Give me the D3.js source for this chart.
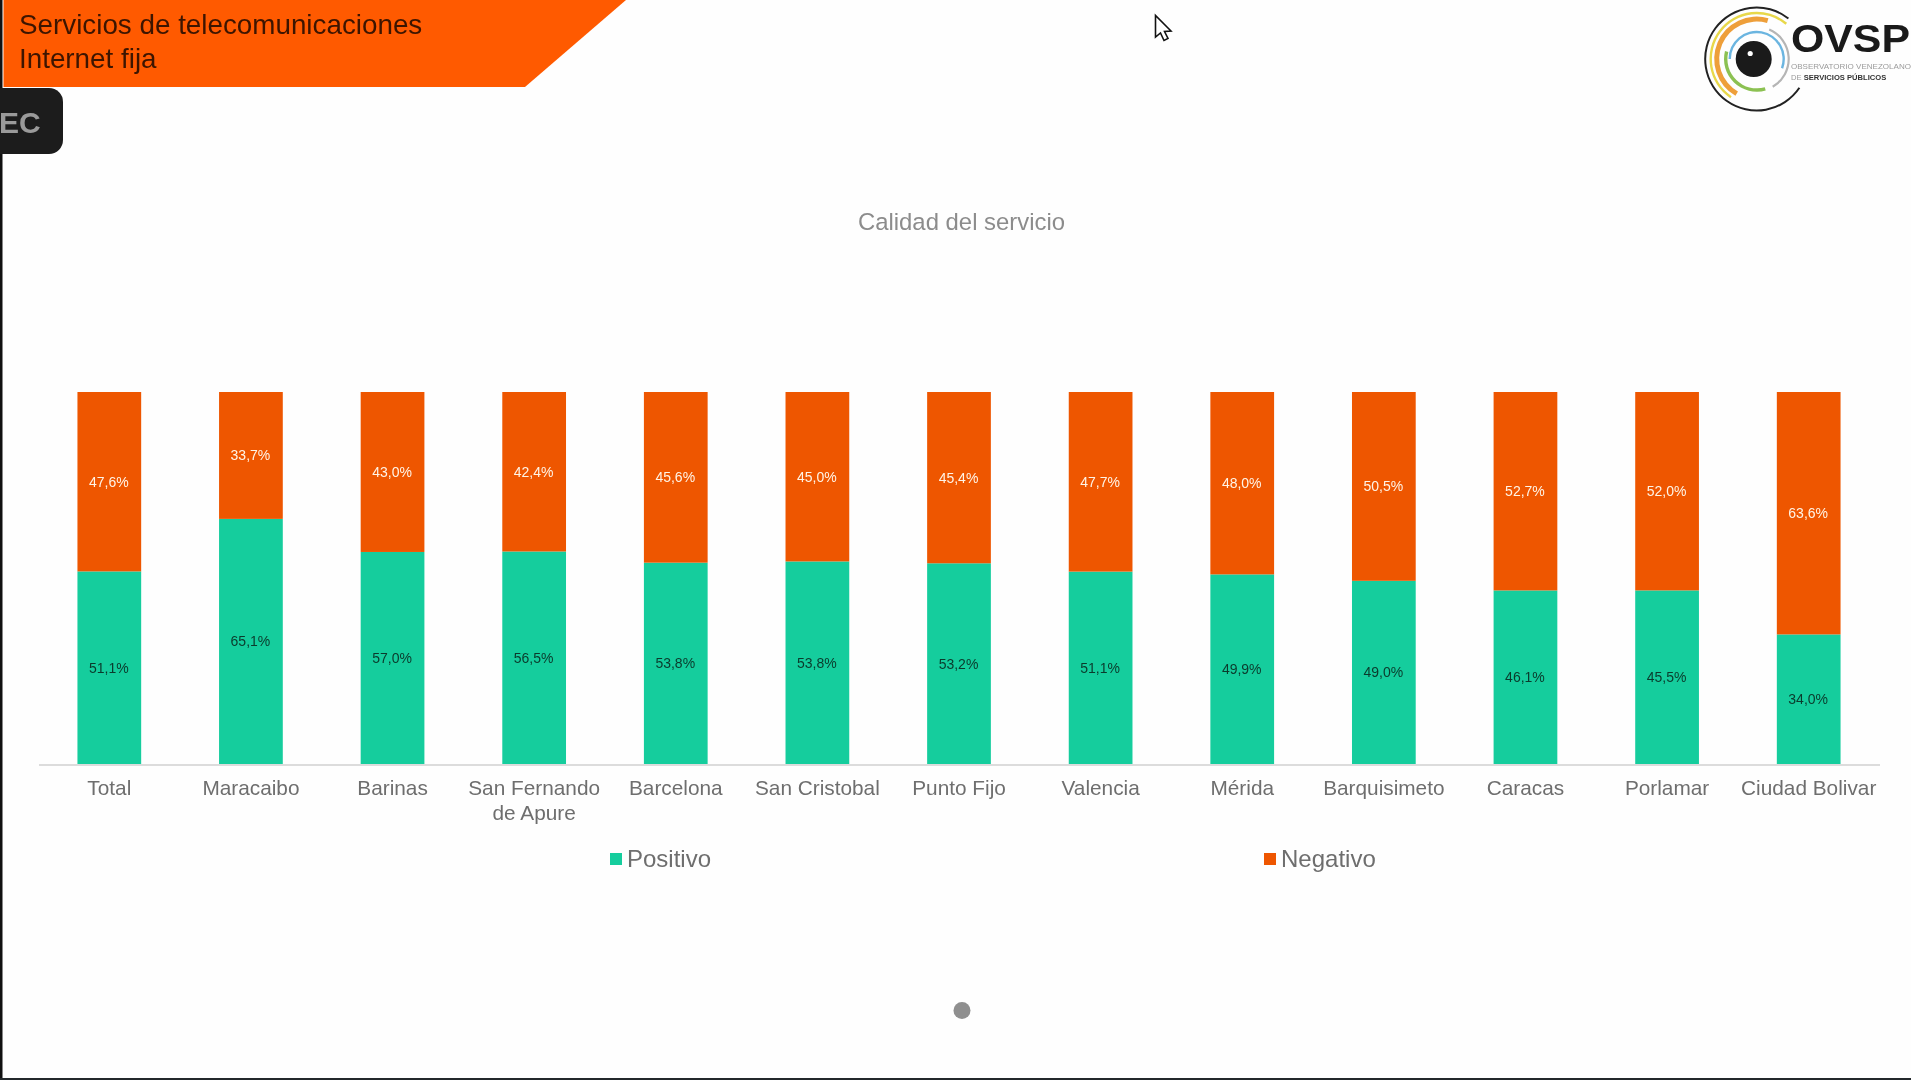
<!DOCTYPE html>
<html lang="es">
<head>
<meta charset="utf-8">
<title>Calidad del servicio</title>
<script src="https://cdn.jsdelivr.net/npm/d3@7"></script>
<style>
  html, body { margin: 0; padding: 0; background: #fff; overflow: hidden; }
  svg { display: block; font-family: "Liberation Sans", Arial, sans-serif; filter: blur(0.4px); }
</style>
</head>
<body>
<div id="chart"></div>
<script>
const categories = ['Total', 'Maracaibo', 'Barinas', 'San Fernando de Apure', 'Barcelona', 'San Cristobal',
  'Punto Fijo', 'Valencia', 'Mérida', 'Barquisimeto', 'Caracas', 'Porlamar', 'Ciudad Bolivar'];
const positivo = [51.1, 65.1, 57.0, 56.5, 53.8, 53.8, 53.2, 51.1, 49.9, 49.0, 46.1, 45.5, 34.0];
const negativo = [47.6, 33.7, 43.0, 42.4, 45.6, 45.0, 45.4, 47.7, 48.0, 50.5, 52.7, 52.0, 63.6];
const seriesNames = ['Positivo', 'Negativo'];
const headerLines = ['Servicios de telecomunicaciones', 'Internet fija'];
const chartTitle = 'Calidad del servicio';

const WIDTH = 1911;
const HEIGHT = 1080;
const GREEN = '#15cd9d';
const ORANGE = '#ee5600';
const GREY_TEXT = '#6e6e6e';

const svg = d3.select('#chart').append('svg')
  .attr('width', WIDTH)
  .attr('height', HEIGHT)
  .attr('viewBox', `0 0 ${WIDTH} ${HEIGHT}`);

svg.append('rect').attr('width', WIDTH).attr('height', HEIGHT).attr('fill', '#fefefe');

const x = d3.scaleBand().domain(categories).range([38.5, 1879.5]).paddingInner(0.55).paddingOuter(0.275);
const y = d3.scaleLinear().domain([0, 1]).range([764, 392]);
const color = d3.scaleOrdinal().domain(seriesNames).range([GREEN, ORANGE]);

// the bars are a 100% stack: the two shares do not always add up to 100
const table = categories.map((name, i) => ({ name, Positivo: positivo[i], Negativo: negativo[i] }));
const stacked = d3.stack().keys(seriesNames).offset(d3.stackOffsetExpand)(table);
const fmt = d3.formatLocale({ decimal: ',', thousands: '.', grouping: [3], currency: ['', ''] }).format('.1f');

function drawBars() {
  const groups = svg.append('g').selectAll('g').data(stacked).join('g').attr('fill', (s) => color(s.key));
  groups.selectAll('rect').data((s) => s).join('rect')
    .attr('x', (d) => x(d.data.name))
    .attr('y', (d) => y(d[1]))
    .attr('width', x.bandwidth())
    .attr('height', (d) => y(d[0]) - y(d[1]));
  groups.selectAll('text').data((s) => s.map((d) => ({ d, key: s.key }))).join('text')
    .attr('x', ({ d }) => x(d.data.name) + x.bandwidth() / 2 - 0.5)
    .attr('y', ({ d }) => (y(d[0]) + y(d[1])) / 2)
    .attr('dominant-baseline', 'central')
    .attr('text-anchor', 'middle')
    .attr('font-size', 14)
    .attr('fill', ({ key }) => (key === 'Positivo' ? '#0b3a2c' : '#fff4e6'))
    .text(({ d, key }) => `${fmt(d.data[key])}%`);
}

function wrapLabel(text, maxWidth) {
  text.each(function () {
    const label = d3.select(this);
    const words = label.text().split(' ');
    label.text(null);
    let tspan = label.append('tspan').attr('x', 0);
    let line = [];
    words.forEach((word) => {
      line.push(word);
      tspan.text(line.join(' '));
      if (tspan.node().getComputedTextLength() > maxWidth && line.length > 1) {
        line.pop();
        tspan.text(line.join(' '));
        line = [word];
        tspan = label.append('tspan').attr('x', 0).attr('dy', 25).text(word);
      }
    });
  });
}

function drawAxis() {
  const axis = svg.append('g')
    .attr('transform', `translate(0,${y(0)})`)
    .call(d3.axisBottom(x).tickSize(0));
  axis.select('.domain').attr('stroke', '#dcdcdc').attr('stroke-width', 2).attr('transform', 'translate(0,0.5)');
  axis.selectAll('text')
    .attr('y', 31)
    .attr('dy', 0)
    .attr('font-family', '"Liberation Sans", Arial, sans-serif')
    .attr('font-size', 20.8)
    .attr('fill', GREY_TEXT)
    .call(wrapLabel, x.step());
}

function drawLegend() {
  const legendX = d3.scaleOrdinal().domain(seriesNames).range([610, 1264]);
  const items = svg.append('g').selectAll('g').data(seriesNames).join('g')
    .attr('transform', (d) => `translate(${legendX(d)},853)`);
  items.append('rect').attr('width', 12).attr('height', 12).attr('fill', (d) => color(d));
  items.append('text')
    .attr('x', 17)
    .attr('y', 14)
    .attr('font-size', 24)
    .attr('fill', GREY_TEXT)
    .text((d) => d);
}

function drawHeader() {
  svg.append('path').attr('d', 'M3.5,0H626L525,87H3.5Z').attr('fill', '#ff5a00');
  svg.append('rect').attr('width', 2.5).attr('height', HEIGHT).attr('fill', '#111');
  svg.append('g').selectAll('text').data(headerLines).join('text')
    .attr('x', 19)
    .attr('y', (d, i) => 34 + i * 34)
    .attr('font-size', 27.8)
    .attr('fill', '#3d1500')
    .text((d) => d);

  svg.append('path')
    .attr('d', 'M0,88H49a14,14 0 0 1 14,14V140a14,14 0 0 1 -14,14H0Z')
    .attr('fill', '#1c1c1c');
  svg.append('text')
    .attr('x', -1)
    .attr('y', 133)
    .attr('font-size', 30)
    .attr('font-weight', 700)
    .attr('fill', '#9a9a9a')
    .text('EC');
}

function drawTitle() {
  svg.append('text')
    .attr('x', 961.5)
    .attr('y', 230)
    .attr('text-anchor', 'middle')
    .attr('font-size', 23.9)
    .attr('fill', '#8c8c8c')
    .text(chartTitle);
}

function drawLogo() {
  const logo = svg.append('g').attr('transform', 'translate(1756.7,59)');
  const rad = (deg) => (deg * Math.PI) / 180;
  const rings = [
    { r: 51.5, w: 2, from: 124, to: 398, fill: '#222' },
    { r: 46, w: 2.4, from: 214, to: 400, fill: '#e8d84a' },
    { r: 40, w: 5, from: 210, to: 376, fill: '#ee9f3a' },
    { r: 32, w: 2.2, from: 23, to: 150, fill: '#b5b5b5' },
    { r: 31, w: 3.4, from: 164, to: 284, fill: '#8cc152' },
    { r: 27, w: 2.4, from: 270, to: 470, fill: '#6bb5e0' },
  ];
  const arc = d3.arc();
  logo.selectAll('path').data(rings).join('path')
    .attr('fill', (d) => d.fill)
    .attr('d', (d) => arc({
      innerRadius: d.r - d.w / 2,
      outerRadius: d.r + d.w / 2,
      startAngle: rad(d.from),
      endAngle: rad(d.to),
    }));
  logo.append('circle').attr('cx', -3).attr('r', 18).attr('fill', '#1a1a1a');
  logo.append('circle').attr('cx', -6.5).attr('cy', -5.5).attr('r', 2.6).attr('fill', '#fff');

  svg.append('text')
    .attr('x', 1791)
    .attr('y', 52)
    .attr('font-size', 38)
    .attr('font-weight', 700)
    .attr('fill', '#1a1a1a')
    .attr('textLength', 119)
    .attr('lengthAdjust', 'spacingAndGlyphs')
    .text('OVSP');
  svg.append('text')
    .attr('x', 1791)
    .attr('y', 69)
    .attr('font-size', 7.6)
    .attr('fill', '#9a9a9a')
    .attr('textLength', 120)
    .attr('lengthAdjust', 'spacingAndGlyphs')
    .text('OBSERVATORIO VENEZOLANO');
  const sub = svg.append('text').attr('x', 1791).attr('y', 80).attr('font-size', 7.6);
  sub.append('tspan').attr('fill', '#9a9a9a').text('DE ');
  sub.append('tspan').attr('fill', '#333').attr('font-weight', 700).text('SERVICIOS PÚBLICOS');
}

function drawScreenBits() {
  // pointer, pager dot and bottom edge of the captured screen
  svg.append('path')
    .attr('d', 'M1155.5,15.5V37L1160.5,33L1164,40.5L1168,38.5L1164.5,31.5L1171,31Z')
    .attr('fill', '#fff')
    .attr('stroke', '#111')
    .attr('stroke-width', 1.6);
  svg.append('circle').attr('cx', 962).attr('cy', 1010.5).attr('r', 8.5).attr('fill', '#8f8f8f');
  svg.append('rect').attr('y', 1078).attr('width', WIDTH).attr('height', 2).attr('fill', '#23282b');
}

drawTitle();
drawBars();
drawAxis();
drawLegend();
drawHeader();
drawLogo();
drawScreenBits();
</script>
</body>
</html>
